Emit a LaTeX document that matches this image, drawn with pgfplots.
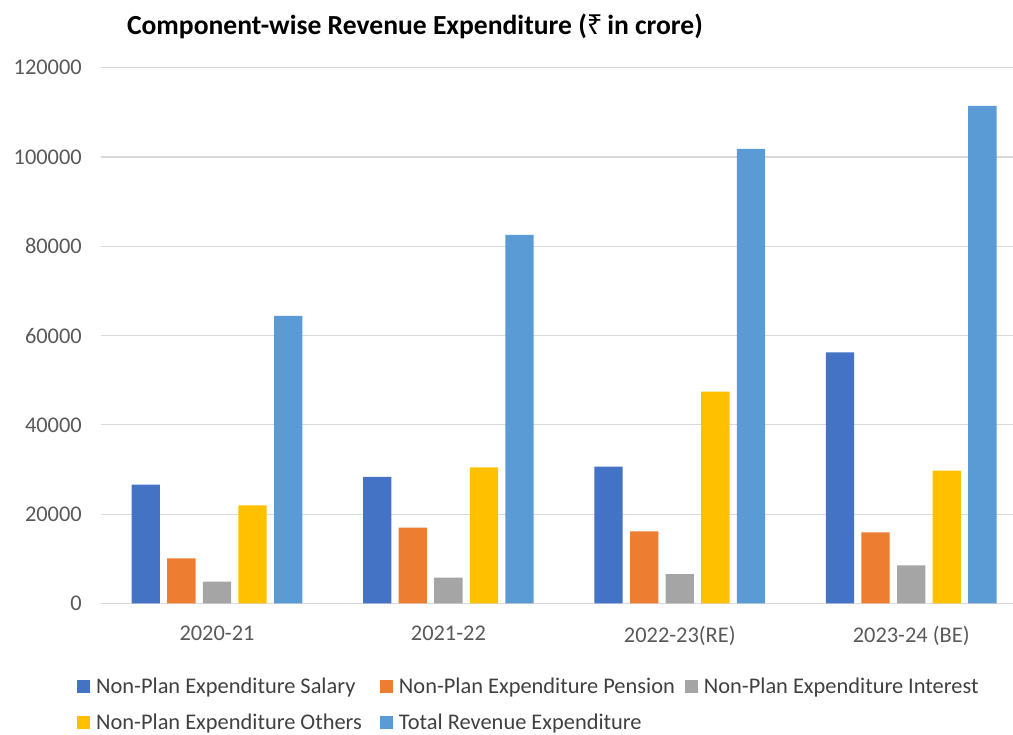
\documentclass[border=0pt]{standalone}
\usepackage{fontspec}
\setmainfont{Carlito}
\newfontfamily\rupeefont{Noto Sans}
\usepackage{pgfplots}
\pgfplotsset{compat=1.18}
\definecolor{cSal}{HTML}{4472C4}
\definecolor{cPen}{HTML}{ED7D31}
\definecolor{cInt}{HTML}{A5A5A5}
\definecolor{cOth}{HTML}{FFC000}
\definecolor{cTot}{HTML}{5B9BD5}
\definecolor{gridgray}{HTML}{D9D9D9}
\definecolor{ticktext}{HTML}{595959}
\definecolor{legtext}{HTML}{404040}
\begin{document}
\begin{tikzpicture}[x=1pt,y=1pt]
\useasboundingbox (0,0) rectangle (1013,735);
\node[font=\fontsize{27.6}{32}\selectfont\bfseries, anchor=center] at (415,709) {Component-wise Revenue Expenditure ({\rupeefont\bfseries ₹}\,in crore)};
\begin{axis}[
  at={(101.3pt,131.5pt)}, anchor=south west,
  scale only axis, width=911.7pt, height=535.8pt,
  ybar=7.3pt, bar width=28.3pt,
  xmin=-0.5, xmax=3.44,
  ymin=0, ymax=120000,
  ytick={0,20000,40000,60000,80000,100000,120000},
  xtick={0,1,2,3},
  xticklabels={2020-21,2021-22,2022-23(RE),2023-24 (BE)},
  scaled y ticks=false,
  /pgf/number format/assume math mode=true,
  /pgf/number format/fixed,
  /pgf/number format/1000 sep={},
  ticklabel style={font=\fontsize{22.4}{26}\selectfont, text=ticktext},
  yticklabel style={xshift=-16pt},
  xticklabel style={yshift=-19pt},
  major tick length=0pt,
  axis x line*=bottom, axis y line*=left,
  x axis line style={draw=gridgray, line width=1.6pt, -},
  y axis line style={draw=none},
  ymajorgrids, grid style={draw=gridgray, line width=1.2pt},
  legend columns=3,
  legend cell align=left,
  legend style={draw=none, fill=none, at={(-0.0267,-0.1344)}, anchor=north west,
    font=\fontsize{22.4}{26}\selectfont, text=legtext,
    /tikz/every odd column/.append style={column sep=4pt},
    /tikz/column 2/.append style={column sep=16pt},
    /tikz/column 4/.append style={column sep=8pt},
    row sep=15pt, inner sep=0pt},
  legend image code/.code={\fill[#1,draw=none] (0pt,-6.5pt) rectangle (13pt,6.5pt);},
]
\addplot[fill=cSal, draw=none] coordinates {(0,26610) (1,28330) (2,30640) (3,56260)};
\addplot[fill=cPen, draw=none] coordinates {(0,10120) (1,16980) (2,16170) (3,15950)};
\addplot[fill=cInt, draw=none] coordinates {(0,4880) (1,5780) (2,6600) (3,8550)};
\addplot[fill=cOth, draw=none] coordinates {(0,22000) (1,30500) (2,47440) (3,29750)};
\addplot[fill=cTot, draw=none] coordinates {(0,64390) (1,82530) (2,101790) (3,111420)};
\legend{Non-Plan Expenditure Salary, Non-Plan Expenditure Pension, Non-Plan Expenditure Interest, Non-Plan Expenditure Others, Total Revenue Expenditure}
\end{axis}
\end{tikzpicture}
\end{document}
